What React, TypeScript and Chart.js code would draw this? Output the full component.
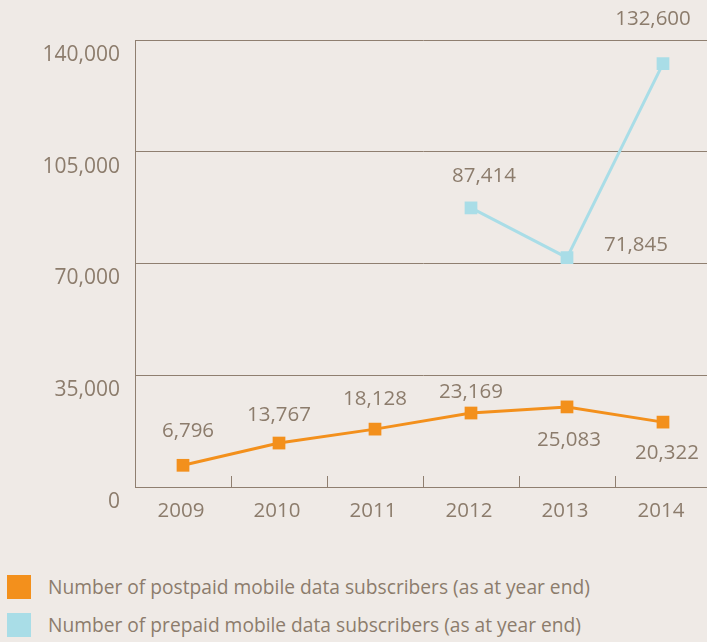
import React, { useEffect, useRef } from "react";
import { Chart, registerables } from "chart.js";

Chart.register(...registerables);

// ---- data ----
const years: string[] = ["2009", "2010", "2011", "2012", "2013", "2014"];
const postpaid: number[] = [6796, 13767, 18128, 23169, 25083, 20322];
const prepaid: (number | null)[] = [null, null, null, 87414, 71845, 132600];
const yMin = 0;
const yMax = 140000;
const yStep = 35000;
const seriesNames: string[] = [
  "Number of postpaid mobile data subscribers (as at year end)",
  "Number of prepaid mobile data subscribers (as at year end)",
];

// ---- styling ----
const BG = "#efeae6";
const TEXT = "#8c7c6c";
const GRID = "#8f7f70";
const ORANGE = "#f3901c";
const BLUE = "#a9dde7";
const FONT = "'Open Sans', sans-serif";

// label offsets relative to the point (dx, dy) in pixels
const postpaidLabelOffsets: [number, number][] = [
  [5, -34], [0, -28], [0, -30], [0, -21], [2, 33], [4, 31],
];
const prepaidLabelOffsets: ([number, number] | null)[] = [
  null, null, null, [13, -32], [69, -12], [-10, -44],
];

const fmt = (v: number) => v.toLocaleString("en-US");

const dataLabelPlugin = {
  id: "dataLabels",
  afterDatasetsDraw(chart: any) {
    const ctx = chart.ctx;
    const offsets = [postpaidLabelOffsets, prepaidLabelOffsets];
    ctx.save();
    ctx.font = `20.5px ${FONT}`;
    ctx.fillStyle = TEXT;
    ctx.textAlign = "center";
    ctx.textBaseline = "middle";
    chart.data.datasets.forEach((ds: any, di: number) => {
      const meta = chart.getDatasetMeta(di);
      ds.data.forEach((v: number | null, i: number) => {
        if (v == null) return;
        const el = meta.data[i];
        const off = offsets[di][i];
        if (!el || !off) return;
        ctx.fillText(fmt(v), el.x + off[0], el.y + off[1]);
      });
    });
    ctx.restore();
  },
};

export default function App() {
  const ref = useRef<HTMLCanvasElement | null>(null);

  useEffect(() => {
    if (!ref.current) return;
    document.body.style.background = BG;
    const chart = new Chart(ref.current, {
      type: "line",
      data: {
        labels: years,
        datasets: [
          {
            label: seriesNames[0],
            data: postpaid,
            borderColor: ORANGE,
            backgroundColor: ORANGE,
            borderWidth: 3,
            pointStyle: "rect",
            pointRadius: 9,
            pointBorderWidth: 0,
            pointBackgroundColor: ORANGE,
            tension: 0,
          },
          {
            label: seriesNames[1],
            data: prepaid,
            borderColor: BLUE,
            backgroundColor: BLUE,
            borderWidth: 3,
            pointStyle: "rect",
            pointRadius: 9,
            pointBorderWidth: 0,
            pointBackgroundColor: BLUE,
            tension: 0,
            spanGaps: false,
          },
        ],
      },
      options: {
        responsive: false,
        animation: false,
        devicePixelRatio: 1,
        layout: { autoPadding: false, padding: { top: 40, left: 0, right: 0, bottom: 0 } },
        plugins: {
          legend: { display: false },
          tooltip: { enabled: false },
        },
        scales: {
          x: {
            type: "category",
            offset: true,
            grid: {
              offset: true,
              drawOnChartArea: false,
              drawTicks: true,
              tickLength: -11,
              color: GRID,
              lineWidth: 1,
            },
            border: { display: true, color: GRID, width: 1 },
            ticks: {
              color: TEXT,
              font: { family: FONT, size: 20.5 },
              padding: 23,
              maxRotation: 0,
              autoSkip: false,
              labelOffset: -2,
            },
            afterFit: (s: any) => {
              s.height = 50;
              s.paddingLeft = 0;
              s.paddingRight = 0;
            },
          },
          y: {
            min: yMin,
            max: yMax,
            ticks: {
              stepSize: yStep,
              color: TEXT,
              font: { family: FONT, size: 21 },
              padding: 15,
              labelOffset: 15,
              callback: (v: any) => fmt(Number(v)),
            },
            grid: {
              drawTicks: false,
              color: GRID,
              lineWidth: 1,
            },
            border: { display: true, color: GRID, width: 1 },
            afterFit: (s: any) => {
              s.width = 135;
              s.paddingTop = 0;
              s.paddingBottom = 0;
            },
          },
        },
      },
      plugins: [dataLabelPlugin],
    });
    return () => chart.destroy();
  }, []);

  const legendColors = [ORANGE, BLUE];

  return (
    <div
      style={{
        position: "absolute",
        left: 0,
        top: 0,
        width: 707,
        height: 642,
        overflow: "hidden",
        background: BG,
      }}
    >
      <canvas
        ref={ref}
        width={711}
        height={537}
        style={{ display: "block", width: 711, height: 537 }}
      />
      <div style={{ position: "absolute", left: 7, top: 575 }}>
        {seriesNames.map((name, i) => (
          <div
            key={name}
            style={{
              display: "flex",
              alignItems: "center",
              height: 24,
              marginBottom: 14,
            }}
          >
            <span
              style={{
                display: "inline-block",
                width: 24,
                height: 24,
                background: legendColors[i],
                marginRight: 17,
                flex: "none",
              }}
            />
            <span
              style={{
                fontFamily: FONT,
                fontSize: 19.2,
                color: TEXT,
                lineHeight: "24px",
                whiteSpace: "nowrap",
              }}
            >
              {name}
            </span>
          </div>
        ))}
      </div>
    </div>
  );
}
